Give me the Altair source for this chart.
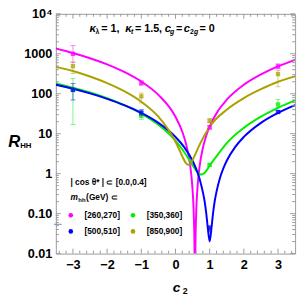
import altair as alt
import pandas as pd

SERIES = ["[260,270]", "[350,360]", "[500,510]", "[850,900]"]
COLORS = ["#ff00ff", "#00ee00", "#0000ff", "#aaa000"]

# ---- curves (c2, R_HH) ----
MAG_C2 = [-3.5, -3.0, -2.5, -2.0, -1.5, -1.0, -0.5, 0.0, 0.2, 0.3, 0.4, 0.45, 0.5, 0.53, 0.55, 0.57,
          0.59, 0.61, 0.65, 0.7, 0.8, 0.9, 1.0, 1.25, 1.5, 2.0, 2.5, 3.0, 3.5]
MAG_R = [1358, 1045, 773, 542, 351, 202, 93.9, 26.6, 11.2, 5.98, 2.37, 1.18, 0.40, 0.13, 0.033, 0.003,
         0.033, 0.13, 0.52, 1.39, 4.34, 8.93, 15.2, 37.9, 70.9, 168, 305, 484, 704]

GREEN_C2 = [-3.5, -3.0, -2.5, -2.0, -1.5, -1.0, -0.5, 0.0, 0.25, 0.5, 0.6, 0.7, 0.76, 0.85, 1.0, 1.25,
            1.5, 2.0, 2.5, 3.0, 3.5]
GREEN_R = [182.5, 142.4, 107.3, 77.2, 52.0, 32.0, 16.8, 6.73, 3.55, 1.63, 1.21, 0.99, 0.95, 1.04, 1.6,
           3.1, 5.8, 14.0, 26.7, 44.5, 68.0]

BLUE_C2 = [-3.5, -3.0, -2.5, -2.0, -1.5, -1.0, -0.5, 0.0, 0.25, 0.5, 0.6, 0.7, 0.8, 0.85, 0.9, 0.95,
           1.0, 1.05, 1.1, 1.15, 1.2, 1.3, 1.4, 1.5, 1.75, 2.0, 2.5, 3.0, 3.5]
BLUE_R = [168, 133, 102, 74.7, 51.9, 33.2, 18.7, 8.3, 4.69, 2.10, 1.35, 0.77, 0.35, 0.21, 0.103, 0.041,
          0.02, 0.041, 0.103, 0.21, 0.35, 0.77, 1.35, 2.10, 4.69, 8.3, 18.7, 33.2, 51.9]

OLIVE_C2 = [-3.5, -3.0, -2.5, -2.0, -1.5, -1.0, -0.5, 0.0, 0.1, 0.2, 0.3, 0.38, 0.45, 0.55, 0.7, 1.0,
            1.5, 2.0, 2.5, 3.0, 3.5]
OLIVE_R = [470, 371, 270, 185, 116, 63.2, 26.7, 6.3, 4.2, 2.7, 1.87, 1.66, 1.85, 2.7, 5.2, 15.0,
           40.0, 78.0, 130, 200, 272]

# ---- data points with error bars ----
MK_C2 = [-3, -1, 1, 3]
MAG_MK = [1000, 185, 14.4, 485]
MAG_LO = [615, 165, 13.0, 420]
MAG_HI = [1600, 210, 16.0, 560]
GREEN_MK = [125, 28, 1.66, 54]
GREEN_LO = [17, 23, 1.55, 46]
GREEN_HI = [240, 36, 1.8, 72]
BLUE_MK = [125, 34, 0.043, 35]
BLUE_LO = [70, 29, 0.035, 32]
BLUE_HI = [180, 40, 0.05, 38]
OLIVE_MK = [490, 86, 21, 310]
OLIVE_LO = [320, 59, 19, 150]
OLIVE_HI = [620, 104, 24, 380]

X_MAJOR = [-3, -2, -1, 0, 1, 2, 3]
Y_MAJOR = [0.01, 0.1, 1, 10, 100, 1000, 10000]

W, H = 245, 245.5
FONT = "Liberation Sans"
FRAME = "#9a9a9a"

xs = alt.Scale(domain=[-3.5, 3.5], nice=False, zero=False)
ys = alt.Scale(type="log", domain=[0.01, 10000], nice=False)
cs = alt.Scale(domain=SERIES, range=COLORS)

X_AX = alt.Axis(values=X_MAJOR, format="d", title=None, ticks=False, domain=False, grid=False,
                labelFont=FONT, labelFontSize=13, labelFontWeight="bold", labelColor="black",
                labelPadding=5)
Y_AX = alt.Axis(values=Y_MAJOR, title=None, ticks=False, domain=False, grid=False,
                labelFont=FONT, labelFontSize=13, labelFontWeight="bold", labelColor="black",
                labelPadding=4,
                labelExpr="datum.value > 5000 ? '10⁴' : datum.value > 500 ? '1000' : datum.value > 50 ? '100' : datum.value > 5 ? '10' : datum.value > 0.5 ? '1' : datum.value > 0.05 ? '0.10' : '0.01'")


def X(field):
    return alt.X(field, scale=xs, axis=X_AX)


def Y(field):
    return alt.Y(field, scale=ys, axis=Y_AX)


curves = [(SERIES[0], MAG_C2, MAG_R), (SERIES[1], GREEN_C2, GREEN_R),
          (SERIES[2], BLUE_C2, BLUE_R), (SERIES[3], OLIVE_C2, OLIVE_R)]
points = [(SERIES[0], MAG_MK, MAG_LO, MAG_HI), (SERIES[1], GREEN_MK, GREEN_LO, GREEN_HI),
          (SERIES[2], BLUE_MK, BLUE_LO, BLUE_HI), (SERIES[3], OLIVE_MK, OLIVE_LO, OLIVE_HI)]

layers = []
for name, cx, cy in curves:
    df = pd.DataFrame({"c2": cx, "R": cy, "bin": name})
    layers.append(alt.Chart(df).mark_line(clip=True, interpolate="monotone", strokeWidth=2).encode(
        x=X("c2:Q"), y=Y("R:Q"), color=alt.Color("bin:N", scale=cs, legend=None)))

for name, mk, lo, hi in points:
    df = pd.DataFrame({"c2": MK_C2, "R": mk, "lo": lo, "hi": hi, "bin": name})
    base = alt.Chart(df)
    col = alt.Color("bin:N", scale=cs, legend=None)
    layers.append(base.mark_rule(strokeWidth=1, opacity=0.5).encode(
        x=X("c2:Q"), y=Y("lo:Q"), y2="hi:Q", color=col))
    for f in ["lo", "hi"]:
        layers.append(base.mark_tick(orient="horizontal", size=5, thickness=1, opacity=0.5).encode(
            x=X("c2:Q"), y=Y(f + ":Q"), color=col))
    layers.append(base.mark_square(size=20, opacity=0.75).encode(
        x=X("c2:Q"), y=Y("R:Q"), color=col))

# ---- inward frame ticks ----
x_minor = [round(-3.4 + 0.2 * i, 1) for i in range(35)]
x_minor = [v for v in x_minor if abs(v - round(v)) > 1e-6]
y_minor = [m * 10.0 ** k for k in range(-2, 4) for m in range(2, 10)]
for vals, ln in [(X_MAJOR, 5), (x_minor, 3)]:
    tdf = pd.DataFrame({"t": vals})
    layers.append(alt.Chart(tdf).mark_rule(color=FRAME, strokeWidth=1).encode(
        x=X("t:Q"), y=alt.value(H), y2=alt.value(H - ln)))
    layers.append(alt.Chart(tdf).mark_rule(color=FRAME, strokeWidth=1).encode(
        x=X("t:Q"), y=alt.value(0), y2=alt.value(ln)))
for vals, ln in [(Y_MAJOR, 5), (y_minor, 3)]:
    tdf = pd.DataFrame({"t": vals})
    layers.append(alt.Chart(tdf).mark_rule(color=FRAME, strokeWidth=1).encode(
        y=Y("t:Q"), x=alt.value(0), x2=alt.value(ln)))
    layers.append(alt.Chart(tdf).mark_rule(color=FRAME, strokeWidth=1).encode(
        y=Y("t:Q"), x=alt.value(W), x2=alt.value(W - ln)))

# small dash at left edge
layers.append(alt.Chart(pd.DataFrame({"a": [0]})).mark_rule(color="#6b8cc0", strokeWidth=1).encode(
    x=alt.value(-2), x2=alt.value(6), y=alt.value(215.5)))


def txt(text, x, y, size, style="normal", weight="bold", align="left", color="black"):
    return alt.Chart(pd.DataFrame({"a": [0]})).mark_text(
        text=text, font=FONT, fontSize=size, fontStyle=style, fontWeight=weight,
        align=align, baseline="middle", color=color).encode(x=alt.value(x), y=alt.value(y))


# top annotation
TY, SY = 15.2, 18.3
layers += [
    txt("κ", 34.5, TY, 11.5, "italic"), txt("λ", 40.5, SY, 7),
    txt("= 1,", 46.5, TY, 11),
    txt("κ", 71, TY, 11.5, "italic"), txt("t", 77, SY, 7, "italic"),
    txt("= 1.5,", 81, TY, 11),
    txt("c", 111.5, TY, 11.5, "italic"), txt("g", 117, SY, 7, "italic"),
    txt("=", 123, TY, 11),
    txt("c", 131, TY, 11.5, "italic"), txt("2", 137.5, SY, 7), txt("g", 141.5, SY, 7, "italic"),
    txt("= 0", 147, TY, 11),
]

# legend block
layers += [
    txt("| cos θ* |  ⊂  [0.0,0.4]", 15, 172.2, 8.5),
    txt("m", 15, 188, 8.5, "italic"), txt("hh", 23, 190.5, 6), txt("(GeV) ⊂", 31, 188, 8.5),
]
LEG_POS = [(15.3, 206.2), (79, 206.2), (15.3, 222.8), (79, 222.8)]
for (lx, ly), name, colr in zip(LEG_POS, SERIES, COLORS):
    layers.append(alt.Chart(pd.DataFrame({"a": [0]})).mark_circle(size=22, opacity=1, color=colr).encode(
        x=alt.value(lx), y=alt.value(ly)))
    layers.append(txt(name, lx + 14, ly, 8.5))

# axis titles
layers += [
    txt("R", -42.5, 131, 17, "italic", align="center"), txt("HH", -36.5, 135, 8),
    txt("c", 123.5, 280.5, 14, "italic", align="center"), txt("2", 130, 284, 9),
]

chart = alt.layer(*layers).properties(
    width=W, height=H,
    padding={"left": 49, "top": 2.5, "right": 4, "bottom": 42},
    autosize=alt.AutoSizeParams(type="none"),
).configure_view(stroke=FRAME, strokeWidth=1)

chart.save("out.html", embed_options={"renderer": "svg", "actions": False})
